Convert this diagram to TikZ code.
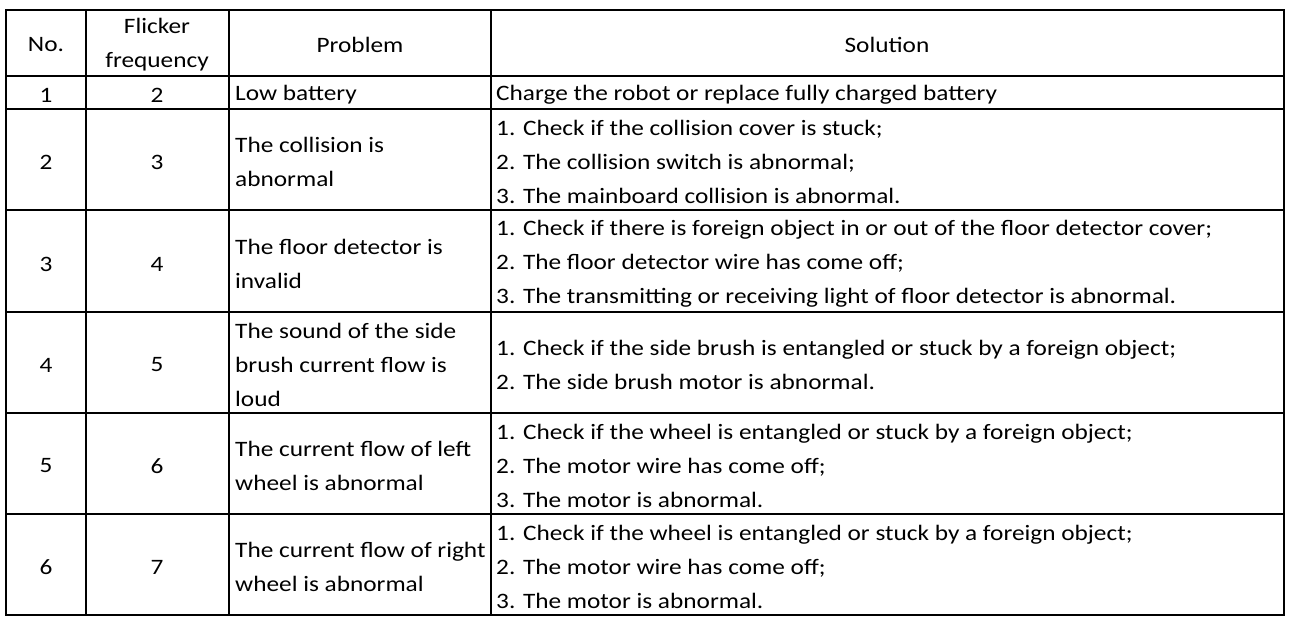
\documentclass[tikz,border=0pt]{standalone}
\usepackage{fontspec}
\setmainfont{Carlito}[FakeStretch=1.15]
\begin{document}
\begin{tikzpicture}[x=1pt,y=-1pt,
  every node/.style={font=\fontsize{22}{34}\selectfont, inner sep=0pt, yshift=-2pt},
  cc/.style={align=center},
  ll/.style={align=left, anchor=west},
  grid/.style={line width=2pt}]
\useasboundingbox (0,0) rectangle (1299,622);
% grid
\draw[grid] (6,10) rectangle (1284,615);
\foreach \x in {86,229,491} \draw[grid] (\x,10) -- (\x,615);
\foreach \y in {76,109,210,312,413,514} \draw[grid] (6,\y) -- (1284,\y);
% header
\node[cc] (h1) at (46,43) {No.};
\node[cc] (h2) at (157,43) {Flicker\\frequency};
\node[cc] (h3) at (360,43) {Problem};
\node[cc] (h4) at (887,43) {Solution};
% rows
\node (n1) at (46,93) {1}; \node (f1) at (157,93) {2};
\node[ll] (p1) at (235,93) {Low battery};
\node[ll] (s1) at (496,93) {Charge the robot or replace fully charged battery};

\node (n2) at (46,160) {2}; \node (f2) at (157,160) {3};
\node[ll] (p2) at (235,160) {The collision is\\abnormal};
\node[ll] (s2) at (496,160) {1. Check if the collision cover is stuck;\\2. The collision switch is abnormal;\\3. The mainboard collision is abnormal.};

\node (n3) at (46,262) {3}; \node (f3) at (157,262) {4};
\node[ll] (p3) at (235,262) {The floor detector is\\invalid};
\node[ll] (s3) at (496,262) {1. Check if there is foreign object in or out of the floor detector cover;\\2. The floor detector wire has come off;\\3. The transmitting or receiving light of floor detector is abnormal.};

\node (n4) at (46,363) {4}; \node (f4) at (157,363) {5};
\node[ll] (p4) at (235,363) {The sound of the side\\brush current flow is\\loud};
\node[ll] (s4) at (496,363) {1. Check if the side brush is entangled or stuck by a foreign object;\\2. The side brush motor is abnormal.};

\node (n5) at (46,464) {5}; \node (f5) at (157,464) {6};
\node[ll] (p5) at (235,464) {The current flow of left\\wheel is abnormal};
\node[ll] (s5) at (496,464) {1. Check if the wheel is entangled or stuck by a foreign object;\\2. The motor wire has come off;\\3. The motor is abnormal.};

\node (n6) at (46,565) {6}; \node (f6) at (157,565) {7};
\node[ll] (p6) at (235,565) {The current flow of right\\wheel is abnormal};
\node[ll] (s6) at (496,565) {1. Check if the wheel is entangled or stuck by a foreign object;\\2. The motor wire has come off;\\3. The motor is abnormal.};
\end{tikzpicture}
\end{document}
